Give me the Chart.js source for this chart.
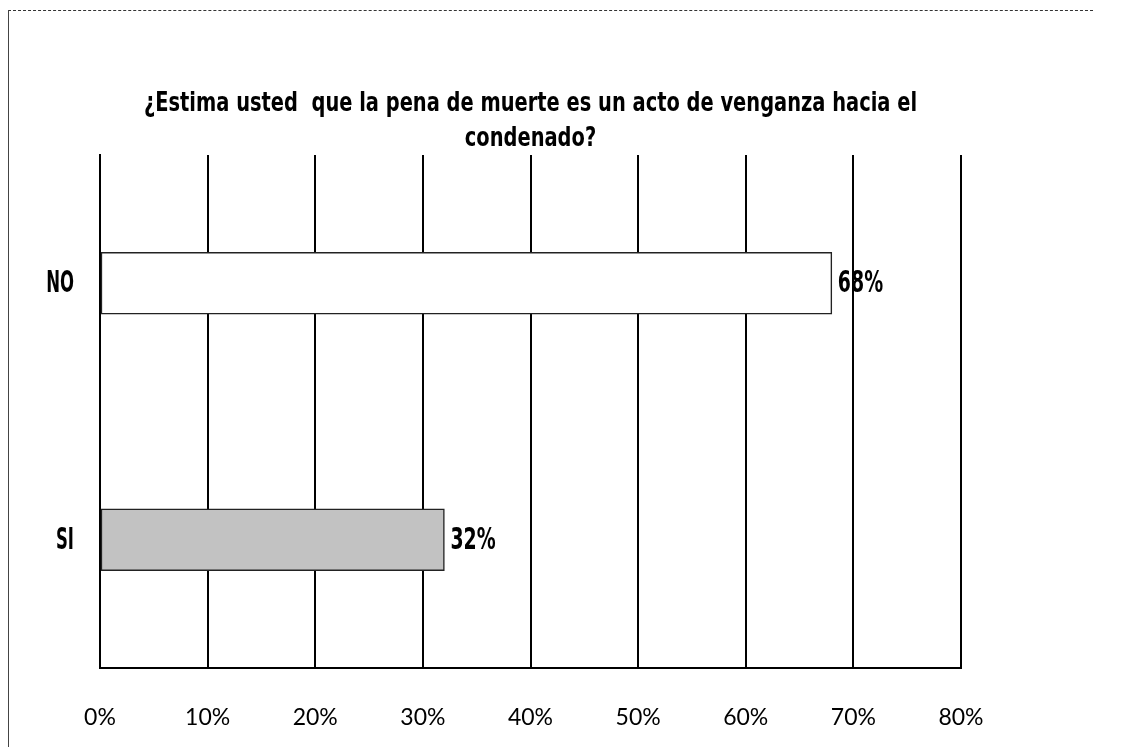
<!DOCTYPE html>
<html>
<head>
<meta charset="utf-8">
<script src="https://cdn.jsdelivr.net/npm/chart.js@4.4.1/dist/chart.umd.min.js"></script>
<style>
  html, body { margin: 0; padding: 0; background: #fff; }
  body { width: 1126px; height: 747px; position: relative; overflow: hidden; }
  #frameTop { position: absolute; left: 8px; top: 10px; width: 1085px; border-top: 1px dashed #333; }
  #frameLeft { position: absolute; left: 8px; top: 10px; height: 737px; border-left: 1px solid #444; }
  #wrap { position: absolute; left: 0; top: 0; width: 1126px; height: 747px; }
</style>
</head>
<body>
<div id="frameTop"></div>
<div id="frameLeft"></div>
<div id="wrap"><canvas id="c"></canvas></div>
<script>
const titleLines = ["¿Estima usted  que la pena de muerte es un acto de venganza hacia el", "condenado?"];
const categories = ["NO", "SI"];
const values = [68, 32];
const xMin = 0, xMax = 80, xStep = 10;

const boldFamily = "'DejaVu Sans', sans-serif";

function narrowText(ctx, text, x, y, align, sx) {
  ctx.save();
  ctx.translate(x, y);
  ctx.scale(sx, 1);
  ctx.textAlign = align;
  ctx.fillText(text, 0, 0);
  ctx.restore();
}

const narrowTexts = {
  id: 'narrowTexts',
  afterDatasetsDraw(chart) {
    const ctx = chart.ctx;
    const area = chart.chartArea;
    ctx.save();
    ctx.fillStyle = "#000";

    // Title (two lines, centred over the plot area)
    ctx.font = "bold 27px " + boldFamily;
    ctx.textBaseline = "alphabetic";
    const cx = (area.left + area.right) / 2;
    const baselines = [area.top - 44, area.top - 9];
    titleLines.forEach((line, i) => narrowText(ctx, line, cx, baselines[i], 'center', 0.72));

    // Category labels
    const yScale = chart.scales.y;
    ctx.font = "bold 30px " + boldFamily;
    ctx.textBaseline = "middle";
    yScale.ticks.forEach((t, i) => {
      narrowText(ctx, yScale.getLabelForValue(t.value), area.left - 26, yScale.getPixelForTick(i) + 1, 'right', 0.55);
    });

    // Value labels
    const meta = chart.getDatasetMeta(0);
    meta.data.forEach((bar, i) => {
      narrowText(ctx, values[i] + "%", bar.x + 6, bar.y + 1, 'left', 0.63);
    });
    ctx.restore();
  }
};

new Chart(document.getElementById('c'), {
  type: 'bar',
  data: {
    labels: categories,
    datasets: [{
      data: values,
      backgroundColor: ['#ffffff', '#c2c2c2'],
      borderColor: '#222',
      borderWidth: 1.5,
      borderSkipped: false,
      barThickness: 62
    }]
  },
  options: {
    indexAxis: 'y',
    responsive: true,
    maintainAspectRatio: false,
    animation: false,
    layout: { padding: { left: 0, right: 165, top: 155, bottom: 0 } },
    plugins: {
      legend: { display: false },
      tooltip: { enabled: false },
      title: { display: false }
    },
    scales: {
      x: {
        min: xMin, max: xMax,
        ticks: {
          stepSize: xStep,
          color: '#000',
          padding: 36,
          font: { family: "Lato, 'Open Sans', sans-serif", size: 23 },
          callback: v => v + '%'
        },
        grid: { color: '#000', lineWidth: 2, drawTicks: false },
        border: { color: '#000', width: 2 },
        afterFit(s) { s.height = 79; s.paddingLeft = 0; s.paddingRight = 0; }
      },
      y: {
        ticks: {
          display: true,
          color: 'rgba(0,0,0,0)',
          padding: 22,
          font: { family: boldFamily, size: 20, weight: 'bold' }
        },
        grid: { display: false, drawTicks: false },
        border: { color: '#000', width: 2 },
        afterFit(s) { s.width = 100; }
      }
    }
  },
  plugins: [narrowTexts]
});
</script>
</body>
</html>
